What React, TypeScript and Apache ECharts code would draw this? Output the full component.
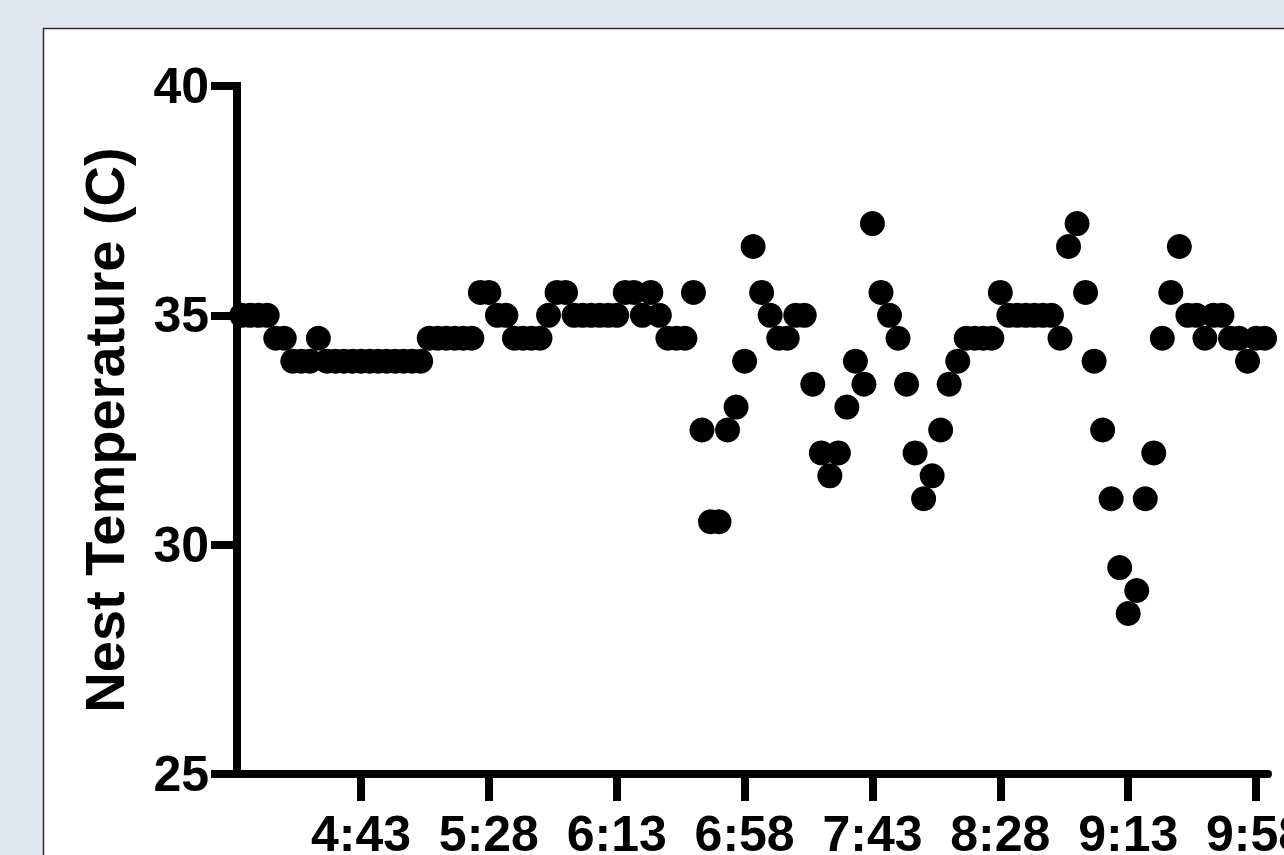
import React, { useEffect, useRef } from "react";
import * as echarts from "echarts";

// Sample times (every 3 minutes) and nest temperatures (°C)
const times: string[] = [
  "4:01", "4:04", "4:07", "4:10", "4:13", "4:16", "4:19", "4:22", "4:25", "4:28",
  "4:31", "4:34", "4:37", "4:40", "4:43", "4:46", "4:49", "4:52", "4:55", "4:58",
  "5:01", "5:04", "5:07", "5:10", "5:13", "5:16", "5:19", "5:22", "5:25", "5:28",
  "5:31", "5:34", "5:37", "5:40", "5:43", "5:46", "5:49", "5:52", "5:55", "5:58",
  "6:01", "6:04", "6:07", "6:10", "6:13", "6:16", "6:19", "6:22", "6:25", "6:28",
  "6:31", "6:34", "6:37", "6:40", "6:43", "6:46", "6:49", "6:52", "6:55", "6:58",
  "7:01", "7:04", "7:07", "7:10", "7:13", "7:16", "7:19", "7:22", "7:25", "7:28",
  "7:31", "7:34", "7:37", "7:40", "7:43", "7:46", "7:49", "7:52", "7:55", "7:58",
  "8:01", "8:04", "8:07", "8:10", "8:13", "8:16", "8:19", "8:22", "8:25", "8:28",
  "8:31", "8:34", "8:37", "8:40", "8:43", "8:46", "8:49", "8:52", "8:55", "8:58",
  "9:01", "9:04", "9:07", "9:10", "9:13", "9:16", "9:19", "9:22", "9:25", "9:28",
  "9:31", "9:34", "9:37", "9:40", "9:43", "9:46", "9:49", "9:52", "9:55", "9:58",
  "10:01",
];

const temps: number[] = [
  35, 35, 35, 35, 34.5, 34.5, 34, 34, 34, 34.5, 34, 34, 34, 34, 34, 34, 34, 34, 34, 34,
  34, 34, 34.5, 34.5, 34.5, 34.5, 34.5, 34.5, 35.5, 35.5, 35, 35, 34.5, 34.5, 34.5, 34.5, 35, 35.5, 35.5, 35,
  35, 35, 35, 35, 35, 35.5, 35.5, 35, 35.5, 35, 34.5, 34.5, 34.5, 35.5, 32.5, 30.5, 30.5, 32.5, 33, 34,
  36.5, 35.5, 35, 34.5, 34.5, 35, 35, 33.5, 32, 31.5, 32, 33, 34, 33.5, 37, 35.5, 35, 34.5, 33.5, 32,
  31, 31.5, 32.5, 33.5, 34, 34.5, 34.5, 34.5, 34.5, 35.5, 35, 35, 35, 35, 35, 35, 34.5, 36.5, 37, 35.5,
  34, 32.5, 31, 29.5, 28.5, 29, 31, 32, 34.5, 35.5, 36.5, 35, 35, 34.5, 35, 35, 34.5, 34.5, 34, 34.5, 34.5,
];

const xTickLabels: string[] = ["4:43", "5:28", "6:13", "6:58", "7:43", "8:28", "9:13", "9:58"];
const yTicks: number[] = [25, 30, 35, 40];
const yTitle = "Nest Temperature (C)";

const toMin = (s: string) => {
  const [h, m] = s.split(":").map(Number);
  return h * 60 + m;
};
const fmt = (v: number) => {
  const h = Math.floor(v / 60);
  const m = Math.round(v - h * 60);
  return `${h}:${String(m).padStart(2, "0")}`;
};

const FONT = "'Liberation Sans', Arial, Helvetica, sans-serif";

export default function App() {
  const ref = useRef<HTMLDivElement>(null);
  useEffect(() => {
    if (!ref.current) return;
    const chart = echarts.init(ref.current, undefined, { renderer: "svg" });
    const tickVals = xTickLabels.map(toMin);
    const data = times.map((t, i) => [toMin(t), temps[i]]);
    chart.setOption({
      animation: false,
      backgroundColor: "#e1e7ef",
      graphic: {
        elements: [
          {
            type: "rect",
            z: -100,
            silent: true,
            shape: { x: 43.5, y: 28.5, width: 1400, height: 1000 },
            style: { fill: "#ffffff", stroke: "#2a2a2a", lineWidth: 1.5 },
          },
        ],
      },
      grid: {
        left: 237,
        right: 16,
        top: 86,
        bottom: 81,
        containLabel: false,
        outerBoundsMode: "none",
      },
      xAxis: {
        type: "value",
        min: 239.36,
        max: 602.2,
        splitLine: { show: false },
        axisLine: { show: true, lineStyle: { color: "#000", width: 8 } },
        axisTick: {
          show: true,
          customValues: tickVals,
          length: 27,
          lineStyle: { color: "#000", width: 8 },
        },
        axisLabel: {
          customValues: tickVals,
          formatter: (v: number) => fmt(v),
          margin: 40,
          lineHeight: 40,
          color: "#000",
          fontSize: 50,
          fontWeight: "bold",
          fontFamily: FONT,
        },
      },
      yAxis: {
        type: "value",
        min: yTicks[0],
        max: yTicks[yTicks.length - 1],
        interval: 5,
        splitLine: { show: false },
        name: yTitle,
        nameLocation: "middle",
        nameRotate: 90,
        nameGap: 105,
        nameTextStyle: {
          color: "#000",
          fontSize: 56,
          fontWeight: "bold",
          fontFamily: FONT,
        },
        axisLine: { show: true, lineStyle: { color: "#000", width: 8, cap: "square" } },
        axisTick: { show: true, length: 26, lineStyle: { color: "#000", width: 8 } },
        axisLabel: {
          margin: 28,
          color: "#000",
          fontSize: 50,
          fontWeight: "bold",
          fontFamily: FONT,
        },
      },
      series: [
        {
          type: "scatter",
          data,
          symbol: "circle",
          symbolSize: 25,
          clip: false,
          itemStyle: { color: "#000", opacity: 1 },
        },
      ],
    });
    return () => chart.dispose();
  }, []);
  return (
    <div
      ref={ref}
      style={{ position: "absolute", left: 0, top: 0, width: 1284, height: 855 }}
    />
  );
}
